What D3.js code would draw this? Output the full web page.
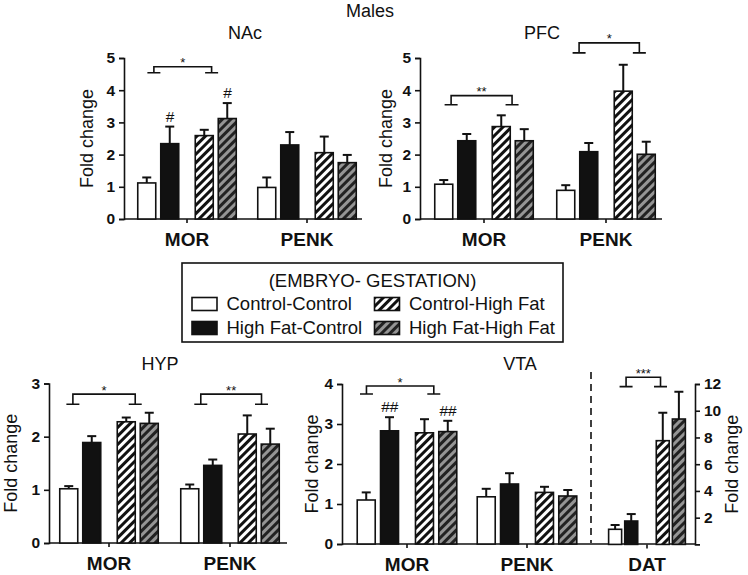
<!DOCTYPE html>
<html><head><meta charset="utf-8">
<script src="https://cdn.jsdelivr.net/npm/d3@7"></script>
<style>body{margin:0;background:#fff}svg{display:block}text{font-family:"Liberation Sans",Arial,sans-serif;fill:#111}</style>
</head><body>
<script>
// ---------- data ----------
const series = ["Control-Control","High Fat-Control","Control-High Fat","High Fat-High Fat"];
const genes = ["MOR","PENK"];
const nacMean = [[1.12,2.34,2.59,3.12],[0.98,2.30,2.06,1.75]];
const nacSem  = [[0.17,0.53,0.18,0.48],[0.31,0.40,0.50,0.24]];
const pfcMean = [[1.08,2.43,2.87,2.43],[0.89,2.09,3.97,2.01]];
const pfcSem  = [[0.13,0.21,0.35,0.36],[0.16,0.27,0.82,0.39]];
const hypMean = [[1.02,1.89,2.28,2.25],[1.02,1.46,2.05,1.86]];
const hypSem  = [[0.05,0.12,0.08,0.20],[0.08,0.11,0.35,0.29]];
const vtaMean = [[1.10,2.83,2.78,2.81],[1.18,1.50,1.29,1.20]];
const vtaSem  = [[0.19,0.34,0.34,0.27],[0.20,0.27,0.14,0.15]];
const datMean = [[1.13,1.75,7.76,9.38]];
const datSem  = [[0.32,0.52,2.09,2.04]];
const nacTicks = [0,1,2,3,4,5];
const pfcTicks = [0,1,2,3,4,5];
const hypTicks = [0,1,2,3];
const vtaTicks = [0,1,2,3,4];
const datTicks = [2,4,6,8,10,12];
// significance brackets: value of top line, value of feet, label
const brackets = [
  {panel:"NAc", group:"MOR", top:4.73, foot:4.54, slots:[0.31,2.82], label:"*"},
  {panel:"PFC", group:"MOR", top:3.83, foot:3.55, slots:[0.32,2.97], label:"**"},
  {panel:"PFC", group:"PENK", top:5.47, foot:5.16, slots:[0.58,3.2], label:"*"},
  {panel:"HYP", group:"MOR", top:2.80, foot:2.61, slots:[0.18,2.89], label:"*"},
  {panel:"HYP", group:"PENK", top:2.80, foot:2.61, slots:[0.48,3.12], label:"**"},
  {panel:"VTA", group:"MOR", top:3.95, foot:3.75, slots:[0.01,2.9], label:"*"},
  {panel:"DAT", group:"DAT", top:12.5, foot:11.8, slots:[0.68,2.82], label:"***"}
];
const hashes = [
  {panel:"NAc", group:"MOR", s:1, label:"#"},
  {panel:"NAc", group:"MOR", s:3, label:"#"},
  {panel:"VTA", group:"MOR", s:1, label:"##"},
  {panel:"VTA", group:"MOR", s:3, label:"##"}
];

// ---------- layout ----------
const panels = [
  {name:"NAc", title:"NAc", means:nacMean, sems:nacSem, groups:genes, ax:124, end:362, yb:219, yt:58, max:5, ticks:nacTicks, centers:[187,307], tx:245, ty:39, lab:"left", lo:37, bw:18, unit:23, slotPos:[0,1,2.5,3.5]},
  {name:"PFC", title:"PFC", means:pfcMean, sems:pfcSem, groups:genes, ax:420, end:662, yb:219, yt:58, max:5, ticks:pfcTicks, centers:[484,606], tx:542, ty:39, lab:"left", lo:34, bw:18, unit:23, slotPos:[0,1,2.5,3.5]},
  {name:"HYP", title:"HYP", means:hypMean, sems:hypSem, groups:genes, ax:49, end:287, yb:543, yt:383.5, max:3, ticks:hypTicks, centers:[109,230], tx:160, ty:370, lab:"left", lo:38, bw:18, unit:23, slotPos:[0,1,2.5,3.5]},
  {name:"VTA", title:"VTA", means:vtaMean, sems:vtaSem, groups:genes, ax:342, end:695, yb:544, yt:384, max:4, ticks:vtaTicks, centers:[407,527], tx:520, ty:370, lab:"left", lo:30, bw:18, unit:23.3, slotPos:[0,1,2.5,3.5]},
  {name:"DAT", title:null, means:datMean, sems:datSem, groups:["DAT"], ax:695, end:null, yb:544.4, yt:384, max:12, ticks:datTicks, centers:[647], lab:"right", lo:37, bw:13, unit:16.1, slotPos:[0,1,2.96,3.96]}
];
const fills = ["#ffffff","#111111","url(#hatchW)","url(#hatchG)"];

const W=748, H=575;
const svg = d3.select("body").append("svg").attr("width",W).attr("height",H);
const defs = svg.append("defs");
function hatch(id,bg,fg){
  const p = defs.append("pattern").attr("id",id).attr("patternUnits","userSpaceOnUse")
    .attr("width",6).attr("height",6).attr("patternTransform","rotate(45)");
  p.append("rect").attr("width",6).attr("height",6).attr("fill",bg);
  p.append("rect").attr("width",3).attr("height",6).attr("fill",fg);
}
hatch("hatchW","#ffffff","#111111");
hatch("hatchG","#959595","#222222");

svg.append("text").attr("x",370).attr("y",17).attr("text-anchor","middle").attr("font-size",18).text("Males");

const scales = {};
panels.forEach(p=>{
  const g = svg.append("g");
  const y = d3.scaleLinear().domain([0,p.max]).range([p.yb,p.yt]);
  const gx = d3.scaleOrdinal().domain(p.groups).range(p.centers);
  const mid = (p.slotPos[0]+p.slotPos[3])/2;
  const slot = d3.scaleLinear().domain([mid-1,mid+1]).range([-p.unit,p.unit]);
  scales[p.name] = {y,gx,slot};
  // y axis
  const axis = (p.lab==="left"? d3.axisLeft(y) : d3.axisRight(y))
     .tickValues(p.ticks).tickSizeOuter(0).tickSize(5).tickPadding(4).tickFormat(d3.format("d"));
  const ag = g.append("g").attr("transform",`translate(${p.ax},0)`).call(axis);
  ag.select(".domain").attr("stroke","#111").attr("stroke-width",1.6);
  ag.selectAll(".tick line").attr("stroke","#111").attr("stroke-width",1.6);
  ag.selectAll(".tick text").attr("font-size",15.5).attr("font-weight","bold").attr("fill","#111")
    .style("font-family","'Liberation Sans',Arial,sans-serif");
  // y label
  const lx = p.lab==="left" ? p.ax-p.lo : p.ax+p.lo;
  g.append("text").attr("transform",`translate(${lx},${(p.yb+p.yt)/2}) rotate(-90)`)
    .attr("text-anchor","middle").attr("dominant-baseline","central").attr("font-size",18).text("Fold change");
  // x baseline
  if(p.end!==null){
    g.append("line").attr("x1",p.ax).attr("x2",p.end).attr("y1",p.yb).attr("y2",p.yb).attr("stroke","#111").attr("stroke-width",1.6);
  }
  // group ticks & labels
  p.groups.forEach(gr=>{
    const cx = gx(gr);
    g.append("line").attr("x1",cx).attr("x2",cx).attr("y1",p.yb).attr("y2",p.yb+4).attr("stroke","#111").attr("stroke-width",1.6);
    g.append("text").attr("x",cx).attr("y",p.yb+26.5).attr("text-anchor","middle").attr("font-size",19).attr("font-weight","bold").text(gr);
  });
  // bars
  p.groups.forEach((gr,gi)=>{
    p.means[gi].forEach((m,si)=>{
      const cx = gx(gr)+slot(p.slotPos[si]);
      g.append("rect").attr("x",cx-p.bw/2).attr("y",y(m)).attr("width",p.bw).attr("height",y(0)-y(m))
        .attr("fill",fills[si]).attr("stroke","#111").attr("stroke-width",1.6);
      const e = m + p.sems[gi][si];
      g.append("line").attr("x1",cx).attr("x2",cx).attr("y1",y(m)).attr("y2",y(e)).attr("stroke","#111").attr("stroke-width",2);
      g.append("line").attr("x1",cx-4.5).attr("x2",cx+4.5).attr("y1",y(e)).attr("y2",y(e)).attr("stroke","#111").attr("stroke-width",2);
    });
  });
  if(p.title){
    g.append("text").attr("x",p.tx).attr("y",p.ty).attr("text-anchor","middle").attr("font-size",18).text(p.title);
  }
});

// dashed separator
svg.append("line").attr("x1",591).attr("x2",591).attr("y1",372).attr("y2",543)
  .attr("stroke","#111").attr("stroke-width",1.6).attr("stroke-dasharray","7,5");

// brackets
brackets.forEach(b=>{
  const s = scales[b.panel];
  const xl = s.gx(b.group)+s.slot(b.slots[0]);
  const xr = s.gx(b.group)+s.slot(b.slots[1]);
  const yt = s.y(b.top), yf = s.y(b.foot);
  const path = `M${xl-6.5},${yf}H${xl+6.5}M${xl},${yf}V${yt}H${xr}V${yf}M${xr-6.5},${yf}H${xr+6.5}`;
  svg.append("path").attr("d",path).attr("fill","none").attr("stroke","#111").attr("stroke-width",1.6);
  svg.append("text").attr("x",(xl+xr)/2).attr("y",yt+0.5).attr("text-anchor","middle").attr("font-size",13).text(b.label);
});

// hashes
hashes.forEach(h=>{
  const p = panels.find(d=>d.name===h.panel);
  const s = scales[h.panel];
  const gi = p.groups.indexOf(h.group);
  const cx = s.gx(h.group)+s.slot(p.slotPos[h.s]);
  const e = p.means[gi][h.s]+p.sems[gi][h.s];
  svg.append("text").attr("x",cx).attr("y",s.y(e)-5).attr("text-anchor","middle").attr("font-size",15.5)
    .attr("font-style","italic").text(h.label);
});

// legend
const lg = svg.append("g");
lg.append("rect").attr("x",182).attr("y",263).attr("width",381).attr("height",79).attr("fill","#fff").attr("stroke","#111").attr("stroke-width",1.6);
lg.append("text").attr("x",372.5).attr("y",286.5).attr("text-anchor","middle").attr("font-size",18.5).text("(EMBRYO- GESTATION)");
const legPos = [[192,297.5],[192,321.5],[374.5,297.5],[374.5,321.5]];
series.forEach((s,i)=>{
  const [lx,ly] = legPos[i];
  lg.append("rect").attr("x",lx).attr("y",ly).attr("width",25).attr("height",13).attr("fill",fills[i]).attr("stroke","#111").attr("stroke-width",1.6);
  lg.append("text").attr("x",lx+34.5).attr("y",ly+12.5).attr("font-size",18.5).text(s);
});
</script>
</body></html>
